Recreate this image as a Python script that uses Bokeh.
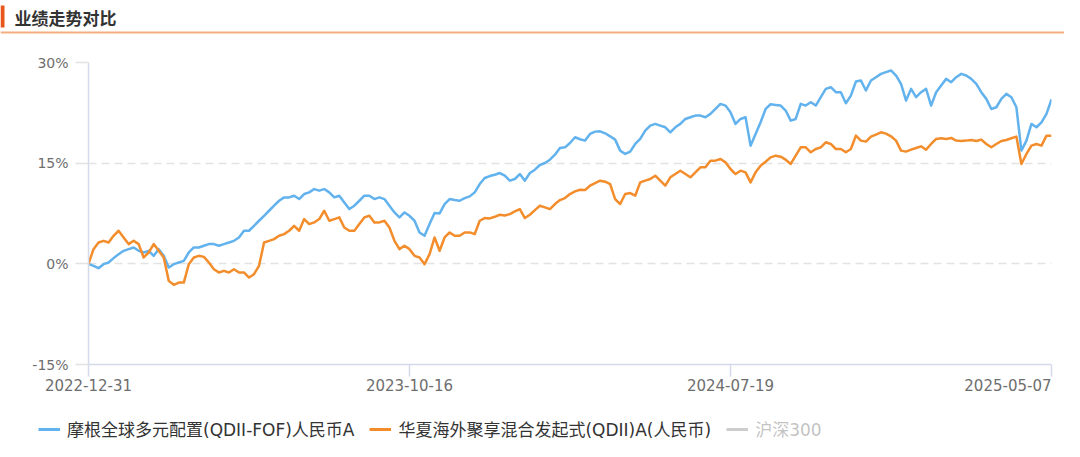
from bokeh.plotting import figure
from bokeh.layouts import column
from bokeh.models import ColumnDataSource, Range1d, FixedTicker, Legend, LegendItem
from bokeh.core.properties import value
from bokeh.embed import file_html
from bokeh.resources import INLINE

# ---------------- data ----------------
title_text = "业绩走势对比"
series_names = ["摩根全球多元配置(QDII-FOF)人民币A", "华夏海外聚享混合发起式(QDII)A(人民币)", "沪深300"]
series_colors = ["#62b2ee", "#f38d2c", "#555555"]
x_tick_labels = ["2022-12-31", "2023-10-16", "2024-07-19", "2025-05-07"]
y_ticks = [-15, 0, 15, 30]
y_tick_labels = ["-15%", "0%", "15%", "30%"]

fund_a = [
    0.0, -0.30, -0.65, -0.05, 0.20, 0.85, 1.44, 1.94, 2.19, 2.44, 1.94, 1.69, 1.94, 1.19, 2.19, 1.19,
    -0.55, -0.05, 0.20, 0.45, 1.69, 2.44, 2.44, 2.69, 2.94, 2.94, 2.69, 2.94, 3.18, 3.43, 3.93, 4.93,
    4.93, 5.67, 6.42, 7.16, 7.91, 8.66, 9.40, 9.90, 9.90, 10.15, 9.65, 10.40, 10.65, 11.14, 10.90, 11.14,
    10.65, 9.90, 10.15, 9.15, 8.16, 8.66, 9.40, 10.15, 10.15, 9.65, 9.90, 9.65, 8.66, 7.66, 6.92, 7.66,
    7.16, 6.42,
    4.68, 4.18, 5.92, 7.56, 7.51, 8.91, 9.65, 9.50, 9.40, 9.80, 10.05, 10.65, 11.89, 12.79, 13.08, 13.28,
    13.53, 13.13, 12.39, 12.64, 13.38, 12.39, 13.53, 14.03, 14.73, 15.02, 15.52, 16.27, 17.26, 17.36, 18.01, 18.86,
    18.56, 18.36, 19.35, 19.70, 19.75, 19.45, 19.00, 18.51, 16.87, 16.37, 16.72, 17.86, 18.61, 19.85, 20.60, 20.85,
    20.60, 20.35, 19.60, 20.35, 20.85, 21.59, 21.84, 22.09, 22.09, 21.84, 22.34, 23.08, 23.83, 23.58, 22.59, 20.85,
    21.59, 21.84, 17.61, 19.35, 21.09, 23.08, 23.78, 23.68, 23.58, 22.84, 21.34, 21.59, 23.83, 23.58, 24.08, 23.58,
    24.83, 26.07, 26.32, 25.57, 25.57, 23.93, 25.07, 27.16, 27.31, 25.82, 27.31, 27.81, 28.31, 28.56, 28.81, 28.06,
    26.82, 24.33, 26.07, 24.83, 25.57, 26.07, 23.58, 25.57, 26.57, 27.56, 27.06, 27.81, 28.31, 28.06, 27.56, 26.82,
    25.57, 24.58, 23.08, 23.33, 24.58, 25.32, 24.83, 23.33, 16.87, 18.36, 20.85, 20.35, 21.09, 22.34, 24.50,
]

fund_b = [
    0.0, 2.19, 3.18, 3.43, 3.18, 4.18, 4.93, 3.93, 2.94, 3.43, 2.94, 0.95, 1.69, 2.94, 1.94, 0.95,
    -2.54, -3.13, -2.79, -2.79, -0.05, 0.95, 1.19, 1.04, 0.20, -0.80, -1.29, -1.04, -1.29, -0.80, -1.29, -1.29,
    -2.04, -1.54, -0.30, 3.18, 3.43, 3.68, 4.18, 4.43, 4.93, 5.67, 4.93, 6.67, 5.92, 6.17, 6.67, 7.91,
    6.42, 6.67, 6.92, 5.42, 4.93, 4.93, 5.92, 6.92, 7.16, 6.17, 6.17, 6.42, 5.42, 3.43, 2.19, 2.69,
    2.19, 1.19,
    0.95, -0.05, 1.44, 3.93, 1.94, 3.93, 4.68, 4.18, 4.18, 4.68, 4.68, 4.43, 6.42, 6.82, 6.77, 7.01,
    7.31, 7.21, 7.41, 7.81, 8.16, 6.82, 7.31, 8.01, 8.66, 8.41, 8.16, 8.91, 9.50, 9.80, 10.40, 10.80,
    11.04, 11.00, 11.64, 12.04, 12.39, 12.24, 11.89, 9.65, 8.91, 10.40, 10.55, 10.15, 12.14, 12.39, 12.64, 13.13,
    12.39, 11.64, 12.89, 13.38, 13.88, 13.38, 12.89, 13.63, 14.38, 14.38, 15.37, 15.37, 15.62, 15.12, 14.13, 13.38,
    13.88, 13.63, 12.14, 13.63, 14.63, 15.22, 15.87, 16.12, 15.97, 15.52, 14.88, 16.12, 17.36, 17.36, 16.62, 17.11,
    17.36, 18.11, 17.86, 17.11, 17.11, 16.62, 17.11, 19.10, 18.36, 18.21, 18.96, 19.25, 19.60, 19.40, 19.00, 18.36,
    16.87, 16.72, 17.01, 17.26, 17.51, 17.01, 17.86, 18.61, 18.71, 18.61, 18.76, 18.36, 18.31, 18.36, 18.46, 18.31,
    18.51, 17.86, 17.36, 17.86, 18.31, 18.46, 18.71, 18.96, 14.88, 16.37, 17.61, 17.86, 17.61, 19.10, 19.10,
]

hs300 = [float("nan")]  # deselected in the legend: no line drawn

# ---------------- layout constants ----------------
W = 1064
HEAD_H = 35
BL, BR, BT, BB = 88, 13, 27, 13       # main figure borders
FRAME_W, FRAME_H = W - BL - BR, 302
MAIN_H = BT + FRAME_H + BB
FOOT_H = 441 - HEAD_H - MAIN_H

n = len(fund_a)
idx = list(range(n))
tick_pos = [0, (n - 1) // 3, 2 * (n - 1) // 3, n - 1]
axis_col = "#d5d9ec"
label_col = "#6e6e6e"


def bare_figure(height, x_range, y_range):
    f = figure(width=W, height=height, x_range=x_range, y_range=y_range,
               x_axis_type=None, y_axis_type=None, output_backend="svg",
               toolbar_location=None, min_border=0)
    f.frame_align = False
    f.outline_line_color = None
    f.grid.visible = False
    f.background_fill_color = "white"
    f.border_fill_color = "white"
    return f


# ---------------- header ----------------
head = bare_figure(HEAD_H, Range1d(0, W), Range1d(HEAD_H, 0))
head.quad(left=[0], right=[4], top=[5], bottom=[27], fill_color="#e9561c", line_color=None)
head.quad(left=[0], right=[W], top=[31], bottom=[33], fill_color="#f6ae80", line_color=None)
head.text(x=[14], y=[17], text=[title_text], text_align="left", text_baseline="middle",
          text_font=value("Noto Sans CJK SC"), text_font_style="bold",
          text_font_size="17px", text_color="#333333")

# ---------------- main chart ----------------
p = figure(width=W, height=MAIN_H, x_range=Range1d(0, n - 1), y_range=Range1d(-15, 30),
           output_backend="svg", toolbar_location=None,
           min_border_left=BL, min_border_right=BR, min_border_top=BT, min_border_bottom=BB)
p.frame_align = False
p.outline_line_color = None
p.background_fill_color = "white"
p.border_fill_color = "white"

src = ColumnDataSource(dict(x=idx, a=fund_a, b=fund_b))
p.line("x", "a", source=src, line_color=series_colors[0], line_width=2.5, line_join="round")
p.line("x", "b", source=src, line_color=series_colors[1], line_width=2.5, line_join="round")

p.xaxis.ticker = FixedTicker(ticks=tick_pos)
p.xaxis.major_label_overrides = {t: "" for t in tick_pos}
p.xaxis.major_label_text_font_size = "0px"
p.xaxis.major_label_standoff = 0
p.xaxis.axis_line_color = axis_col
p.xaxis.axis_line_width = 1.5
p.xaxis.major_tick_line_color = axis_col
p.xaxis.major_tick_line_width = 1.5
p.xaxis.major_tick_out = 12
p.xaxis.major_tick_in = 0

p.yaxis.ticker = FixedTicker(ticks=y_ticks)
p.yaxis.major_label_overrides = {t: l for t, l in zip(y_ticks, y_tick_labels)}
p.yaxis.axis_line_color = axis_col
p.yaxis.axis_line_width = 1.5
p.yaxis.major_tick_line_color = "#e3e3e3"
p.yaxis.major_tick_line_width = 1.5
p.yaxis.major_tick_out = 13
p.yaxis.major_tick_in = 0
p.yaxis.major_label_standoff = 7
p.yaxis.major_label_text_font = "DejaVu Sans"
p.yaxis.major_label_text_font_size = "14px"
p.yaxis.major_label_text_color = label_col
p.axis.minor_tick_line_color = None

p.xgrid.visible = False
p.ygrid.grid_line_color = "#e3e3e3"
p.ygrid.grid_line_width = 1.5
p.ygrid.grid_line_dash = "8 5"

# ---------------- footer: date labels + legend ----------------
per_px = (n - 1) / FRAME_W
foot = bare_figure(FOOT_H, Range1d(-BL * per_px, (n - 1) + BR * per_px), Range1d(FOOT_H, 0))
foot.text(x=tick_pos[:3], y=[1, 1, 1], text=x_tick_labels[:3], text_align="center", text_baseline="top",
          text_font=value("DejaVu Sans"), text_font_size="15px", text_color=label_col)
foot.text(x=[tick_pos[3]], y=[1], text=[x_tick_labels[3]], text_align="right", text_baseline="top",
          text_font=value("DejaVu Sans"), text_font_size="15px", text_color=label_col)

la = foot.line(x=[0], y=[float("nan")], line_color=series_colors[0], line_width=3)
lb = foot.line(x=[0], y=[float("nan")], line_color=series_colors[1], line_width=3)
lc = foot.line(x=[0], y=hs300, line_color=series_colors[2], line_width=3, visible=False)

legend = Legend(items=[LegendItem(label=series_names[0], renderers=[la]),
                       LegendItem(label=series_names[1], renderers=[lb]),
                       LegendItem(label=series_names[2], renderers=[lc])],
                location=(38, 0), orientation="horizontal",
                border_line_color=None, background_fill_alpha=0, padding=0, margin=0,
                spacing=15, label_standoff=7, glyph_width=22, glyph_height=18, label_height=18,
                label_text_font="DejaVu Sans, Noto Sans CJK SC", label_text_font_size="17px",
                label_text_color="#333333", click_policy="hide",
                inactive_fill_color="white", inactive_fill_alpha=0.7)
foot.add_layout(legend)

layout = column(head, p, foot, spacing=0)
open("out.html", "w").write(file_html(layout, INLINE))
